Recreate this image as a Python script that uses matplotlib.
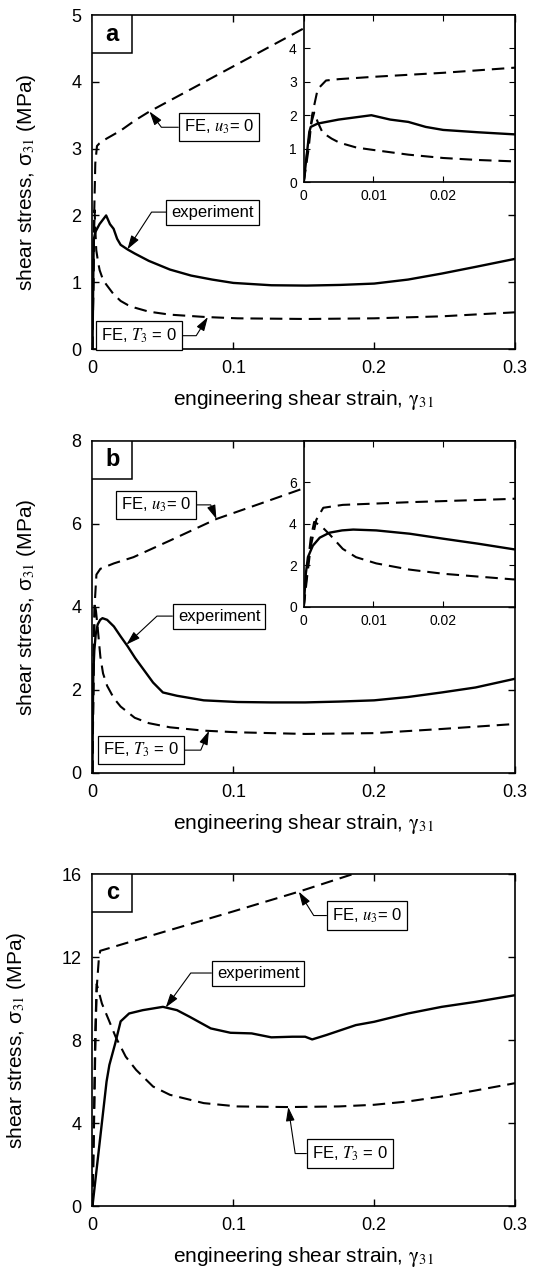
import matplotlib.pyplot as plt
import numpy as np

plt.rcParams['font.family'] = ['Liberation Sans', 'DejaVu Sans']
plt.rcParams['mathtext.fontset'] = 'stix'
plt.rcParams['lines.scale_dashes'] = False

# ---- panel a (stress in MPa vs engineering shear strain) ----
a_exp_x = [0, 0.0008, 0.001, 0.002, 0.005, 0.0097, 0.0124, 0.015, 0.0175, 0.02, 0.025, 0.03,
           0.04, 0.055, 0.07, 0.085, 0.1, 0.127, 0.152, 0.176, 0.2, 0.224, 0.248, 0.272, 0.3]
a_exp_y = [0, 1.5, 1.65, 1.75, 1.87, 2.0, 1.87, 1.8, 1.65, 1.56, 1.49, 1.43,
           1.32, 1.19, 1.1, 1.04, 0.99, 0.955, 0.95, 0.96, 0.98, 1.04, 1.13, 1.23, 1.35]
a_u3_x = [0, 0.0007, 0.0012, 0.002, 0.0032, 0.005, 0.01, 0.02, 0.03, 0.04, 0.15, 0.2]
a_u3_y = [0, 1.0, 2.0, 2.78, 3.04, 3.08, 3.15, 3.27, 3.42, 3.55, 4.8, 5.35]
a_t3_x = [0, 0.0005, 0.001, 0.0015, 0.002, 0.0027, 0.004, 0.0051, 0.0076, 0.01, 0.015, 0.02,
          0.025, 0.03, 0.04, 0.055, 0.08, 0.103, 0.152, 0.2, 0.248, 0.3]
a_t3_y = [0, 0.9, 1.7, 2.08, 1.8, 1.48, 1.3, 1.18, 1.03, 0.96, 0.82, 0.72,
          0.66, 0.62, 0.56, 0.515, 0.48, 0.46, 0.45, 0.46, 0.49, 0.55]

# ---- panel b ----
b_exp_x = [0, 0.0003, 0.0006, 0.0013, 0.0023, 0.0037, 0.0055, 0.0071, 0.0104, 0.0152, 0.02, 0.025,
           0.0303, 0.043, 0.05, 0.06, 0.079, 0.103, 0.127, 0.151, 0.175, 0.2, 0.224, 0.248, 0.272, 0.3]
b_exp_y = [0, 1.6, 2.4, 2.95, 3.34, 3.58, 3.69, 3.73, 3.69, 3.53, 3.29, 3.05,
           2.77, 2.18, 1.94, 1.86, 1.75, 1.71, 1.70, 1.70, 1.72, 1.75, 1.83, 1.94, 2.06, 2.27]
b_u3_x = [0, 0.0005, 0.001, 0.0018, 0.0028, 0.0056, 0.0152, 0.0291, 0.055, 0.088, 0.12, 0.15, 0.2, 0.3]
b_u3_y = [0, 1.5, 2.9, 4.2, 4.78, 4.92, 5.05, 5.2, 5.6, 6.12, 6.5, 6.86, 7.45, 8.6]
b_t3_x = [0, 0.0005, 0.001, 0.0015, 0.0025, 0.0037, 0.0056, 0.0075, 0.0104, 0.0152, 0.02, 0.03,
          0.04, 0.055, 0.079, 0.103, 0.151, 0.2, 0.248, 0.3]
b_t3_y = [0, 1.8, 3.3, 4.1, 3.9, 3.5, 2.8, 2.4, 2.1, 1.8, 1.6, 1.33,
          1.2, 1.1, 1.02, 0.98, 0.94, 0.96, 1.06, 1.18]

# ---- panel c ----
c_exp_x = [0, 0.005, 0.01, 0.012, 0.016, 0.02, 0.026, 0.0357, 0.05, 0.06, 0.069, 0.084, 0.098,
           0.113, 0.127, 0.142, 0.151, 0.156, 0.166, 0.187, 0.2, 0.224, 0.248, 0.272, 0.3]
c_exp_y = [0, 3.0, 6.0, 6.8, 7.8, 8.9, 9.28, 9.44, 9.6, 9.44, 9.12, 8.56, 8.35,
           8.32, 8.13, 8.16, 8.16, 8.03, 8.24, 8.72, 8.88, 9.28, 9.6, 9.84, 10.16]
c_u3_x = [0, 0.001, 0.002, 0.003, 0.0045, 0.0055, 0.05, 0.1, 0.1465, 0.185, 0.3]
c_u3_y = [0, 3.5, 7.5, 10.5, 11.9, 12.3, 13.2, 14.2, 15.15, 16.0, 18.4]
c_t3_x = [0, 0.001, 0.002, 0.003, 0.0067, 0.0116, 0.0164, 0.0236, 0.031, 0.043, 0.055, 0.079,
          0.103, 0.139, 0.175, 0.2, 0.224, 0.248, 0.272, 0.3]
c_t3_y = [0, 4.0, 8.5, 10.7, 9.76, 8.96, 8.16, 7.2, 6.56, 5.76, 5.36, 4.96,
          4.8, 4.77, 4.8, 4.88, 5.04, 5.28, 5.57, 5.92]

x_ticks = [0, 0.1, 0.2, 0.3]
x_tick_labels = ['0', '0.1', '0.2', '0.3']
inset_x_ticks = [0, 0.01, 0.02]
inset_x_tick_labels = ['0', '0.01', '0.02']

lbl_u3 = r'FE, $u_{\mathit{3}}$= 0'
lbl_t3 = r'FE, $T_{\mathit{3}}$ = 0'
lbl_exp = 'experiment'

DASH = (9, 5)


def draw_curves(ax, exp, u3, t3):
    ax.plot(u3[0], u3[1], color='black', lw=1.5, dashes=DASH)
    ax.plot(t3[0], t3[1], color='black', lw=1.5, dashes=DASH)
    ax.plot(exp[0], exp[1], color='black', lw=1.7)


def callout(ax, text, xy_text, x_tip, curve, angle, side):
    tip = (x_tip, np.interp(x_tip, curve[0], curve[1]))
    relpos = (0, 0.5) if side == 'left' else (1, 0.5)
    ax.annotate(text, xy=tip, xytext=xy_text, ha='center', va='center', fontsize=12,
                bbox=dict(boxstyle='square,pad=0.3', fc='white', ec='black', lw=0.9),
                arrowprops=dict(arrowstyle='-|>,head_length=0.7,head_width=0.22',
                                connectionstyle='angle,angleA=0,angleB=%g,rad=0' % angle,
                                relpos=relpos, color='black', lw=0.8,
                                shrinkA=0, shrinkB=0))


def panel(rect, letter, ymax, yticks, exp, u3, t3, calls, inset=None):
    ax = fig.add_axes(rect)
    draw_curves(ax, exp, u3, t3)
    ax.set_xlim(0, 0.3)
    ax.set_ylim(0, ymax)
    ax.set_xticks(x_ticks)
    ax.set_xticklabels(x_tick_labels)
    ax.set_yticks(yticks)
    ax.tick_params(direction='in', top=True, right=True, length=5, width=1,
                   labelsize=13, pad=8)
    for s in ax.spines.values():
        s.set_linewidth(1.2)
    ax.set_xlabel(r'engineering shear strain, $\mathrm{\gamma}_{31}$', fontsize=15, labelpad=8)
    ax.set_ylabel('shear stress, σ$_{31}$ (MPa)', fontsize=15, labelpad=24)

    # panel letter in its own box in the corner
    ax.add_patch(plt.Rectangle((0, 1 - 0.1145), 0.0935, 0.1145, transform=ax.transAxes,
                               fc='white', ec='black', lw=1.1, zorder=4))
    ax.text(0.0467, 1 - 0.057, letter, transform=ax.transAxes, ha='center', va='center',
            fontsize=17, fontweight='bold', zorder=5)

    for c in calls:
        callout(ax, *c)

    if inset is not None:
        ins = ax.inset_axes([0.5, 0.5, 0.5, 0.5])
        draw_curves(ins, exp, u3, t3)
        ins.set_xlim(0, 0.0303)
        ins.set_ylim(0, inset[0])
        ins.set_xticks(inset_x_ticks)
        ins.set_xticklabels(inset_x_tick_labels)
        ins.set_yticks(inset[1])
        ins.tick_params(direction='in', top=True, right=True, length=4, width=0.8,
                        labelsize=10, pad=5)
        for s in ins.spines.values():
            s.set_linewidth(1.2)
    return ax


fig = plt.figure(figsize=(5.33, 12.73), dpi=100)
L, W = 0.1735, 0.7927

a_exp, a_u3, a_t3 = (a_exp_x, a_exp_y), (a_u3_x, a_u3_y), (a_t3_x, a_t3_y)
panel([L, 0.7258, W, 0.2624], 'a', 5, [0, 1, 2, 3, 4, 5], a_exp, a_u3, a_t3,
      [(lbl_u3, (0.0898, 3.32), 0.0405, a_u3, -53, 'left'),
       (lbl_exp, (0.0853, 2.05), 0.0248, a_exp, 57, 'left'),
       (lbl_t3, (0.033, 0.2), 0.0819, a_t3, 58, 'right')],
      inset=(5, [0, 1, 2, 3, 4]))

b_exp, b_u3, b_t3 = (b_exp_x, b_exp_y), (b_u3_x, b_u3_y), (b_t3_x, b_t3_y)
panel([L, 0.3928, W, 0.2608], 'b', 8, [0, 2, 4, 6, 8], b_exp, b_u3, b_t3,
      [(lbl_u3, (0.045, 6.46), 0.088, b_u3, 112, 'right'),
       (lbl_exp, (0.0899, 3.78), 0.0241, b_exp, 43, 'left'),
       (lbl_t3, (0.0347, 0.55), 0.0827, b_t3, 67, 'right')],
      inset=(8, [0, 2, 4, 6]))

c_exp, c_u3, c_t3 = (c_exp_x, c_exp_y), (c_u3_x, c_u3_y), (c_t3_x, c_t3_y)
panel([L, 0.0526, W, 0.2608], 'c', 16, [0, 4, 8, 12, 16], c_exp, c_u3, c_t3,
      [(lbl_u3, (0.195, 14.0), 0.1465, c_u3, -58, 'left'),
       (lbl_exp, (0.1176, 11.23), 0.052, c_exp, 54, 'left'),
       (lbl_t3, (0.1827, 2.53), 0.139, c_t3, -81.5, 'left')])

fig.savefig('out.png', dpi=100)
